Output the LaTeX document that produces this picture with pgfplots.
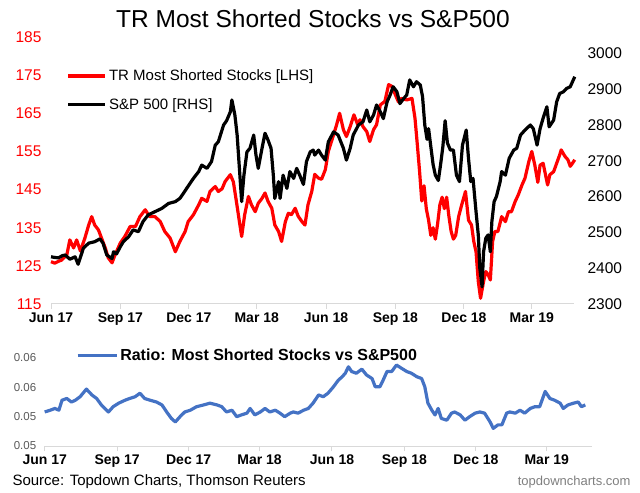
\documentclass[border=0pt]{standalone}
\usepackage{fontspec}
\setmainfont{Liberation Sans}
\usepackage{pgfplots}
\pgfplotsset{compat=1.18}
\definecolor{axgray}{HTML}{D9D9D9}
\definecolor{ratioblue}{HTML}{4472C4}
\definecolor{lblgray}{HTML}{595959}
\definecolor{urlgray}{HTML}{7F7F7F}
\begin{document}
\begin{tikzpicture}
\path[use as bounding box] (0bp,0bp) rectangle (640bp,493bp);
\node[font=\fontsize{24.5bp}{28bp}\selectfont] at (313bp,474bp) {TR Most Shorted Stocks vs S\&P500};
% ---------- top chart, left axis (red) ----------
\begin{axis}[
  at={(51bp,189bp)}, anchor=south west, scale only axis,
  width=523bp, height=267bp,
  xmin=0, xmax=694, ymin=115, ymax=185,
  axis x line*=bottom, axis y line*=left,
  y axis line style={draw=none},
  x axis line style={axgray, line width=1bp},
  xtick={0,92,183,273,365,457,548,638},
  xticklabels={Jun 17,Sep 17,Dec 17,Mar 18,Jun 18,Sep 18,Dec 18,Mar 19},
  xticklabel style={font=\fontsize{14bp}{16bp}\selectfont\bfseries},
  ytick={115,125,135,145,155,165,175,185},
  yticklabel style={font=\fontsize{15.5bp}{18bp}\selectfont, red, xshift=-1bp},
  ytick style={draw=none},
  xtick style={axgray, line width=1bp},
  tick align=outside, major tick length=5bp,
  /pgf/number format/assume math mode=true,
  clip=false,
]
\addplot[red, line width=3.2bp, line join=round] coordinates {
(0,126.1)(5,125.7)(10,126.2)(14,126.5)(21,127.9)(25,131.8)(30,129.7)(34,131.8)(39,128.9)(45,132.3)(50,135.7)(54,137.9)(58,135.7)(63,134.4)(67,132.3)(72,129.7)(76,127.1)(81,125.8)(85,127.9)(92,131)(98,132.7)(105,135.3)(112,135.3)(118,137.9)(125,139.7)(131,137.9)(138,137.9)(145,136.6)(151,134)(158,132.3)(165,128.7)(171,131.4)(178,134)(182,136.6)(189,138.4)(196,141)(200,142.7)(207,141.9)(211,144.5)(218,145.8)(222,144.5)(227,145.2)(231,147.1)(238,148.9)(242,147)(246,141.9)(250,136.6)(253,132.7)(257,138.4)(262,143.2)(266,141)(271,139.2)(275,141.4)(280,142.7)(284,144.1)(288,141.9)(293,140.1)(297,135.7)(302,134)(306,131.4)(311,136.6)(315,138.8)(319,138.4)(324,140.1)(328,138)(333,136.6)(337,135.7)(341,141)(346,144.5)(350,149)(355,148)(359,147.7)(364,150.2)(368,155)(375,159.4)(379,162)(383,165)(388,160.7)(392,158.9)(397,161.5)(402,164.6)(407,162)(410,163.3)(414,161.5)(419,160.2)(423,157.6)(428,160.7)(432,162)(437,167.2)(443,168.1)(448,172.5)(452,172.1)(456,170.3)(461,168)(465,168.9)(472,168.5)(479,168.9)(483,163.7)(486,157)(489,150)(492,142)(495,146)(498,140)(501,137)(504,133)(507,135)(510,132)(513,136)(516,141)(519,143)(522,140)(525,143)(528,138)(531,134)(534,132)(537,133)(541,138)(545,141)(550,144.5)(554,137)(558,135.7)(561,131.4)(564,128.7)(567,120.9)(570,116.5)(574,120.9)(577,123.5)(580,122.7)(583,121.3)(586,131.4)(589,134)(593,134)(598,137.9)(603,136.6)(607,139.2)(611,139.2)(616,141.9)(620,143.6)(625,146.2)(629,148)(634,152.3)(638,155)(642,151.4)(646,146.9)(649,151.4)(653,151.9)(659,146.2)(662,148.9)(667,149.7)(671,151.9)(675,154.1)(677,155.4)(682,153.7)(686,152.8)(689,151.1)(692,151.9)(695,152.8)
};
\end{axis}
% ---------- top chart, right axis (black) ----------
\begin{axis}[
  at={(51bp,189bp)}, anchor=south west, scale only axis,
  width=523bp, height=267bp,
  xmin=0, xmax=694, ymin=2300, ymax=3046,
  axis x line=none, axis y line*=right,
  y axis line style={draw=none},
  ytick={2300,2400,2500,2600,2700,2800,2900,3000},
  yticklabel style={font=\fontsize{15.5bp}{18bp}\selectfont, black, xshift=10bp},
  ytick style={draw=none},
  /pgf/number format/1000 sep={},
  /pgf/number format/assume math mode=true,
  clip=false,
  legend style={at={(0.03,0.885)}, anchor=north west, draw=none, fill=none,
    inner sep=0pt, font=\fontsize{15bp}{18bp}\selectfont, row sep=12bp,
    cells={anchor=west}},
  legend image code/.code={\draw[#1] (0bp,0bp) -- (37bp,0bp);},
]
\addlegendimage{red, line width=3.2bp}
\addlegendentry{TR Most Shorted Stocks [LHS]}
\addplot[black, line width=3.2bp, line join=round] coordinates {
(0,2432)(5,2430)(10,2429)(15,2435)(19,2437)(25,2425)(32,2432)(36,2411)(43,2456)(50,2470)(58,2474)(65,2482)(69,2470)(74,2437)(81,2427)(83,2446)(87,2440)(92,2460)(96,2474)(103,2488)(109,2507)(116,2502)(122,2530)(129,2549)(138,2558)(147,2567)(156,2581)(165,2586)(171,2595)(176,2610)(180,2623)(189,2651)(196,2670)(200,2688)(207,2679)(213,2698)(218,2744)(222,2753)(229,2800)(233,2812)(238,2837)(240,2870)(244,2828)(247,2772)(250,2679)(253,2586)(256,2660)(260,2725)(264,2735)(269,2772)(272,2716)(275,2679)(280,2735)(284,2777)(288,2758)(292,2735)(295,2660)(297,2595)(302,2642)(304,2595)(308,2660)(313,2623)(317,2670)(322,2651)(326,2679)(330,2660)(335,2634)(339,2698)(344,2725)(348,2730)(350,2716)(355,2730)(359,2716)(364,2702)(368,2753)(375,2781)(381,2772)(388,2735)(392,2702)(397,2735)(401,2772)(408,2800)(414,2809)(419,2842)(423,2809)(428,2828)(432,2856)(437,2837)(441,2818)(446,2865)(450,2884)(454,2907)(459,2893)(463,2860)(468,2874)(472,2884)(476,2926)(481,2907)(485,2921)(490,2912)(493,2880)(496,2800)(499,2760)(501,2790)(504,2740)(507,2690)(510,2660)(514,2645)(517,2690)(520,2740)(523,2812)(526,2750)(530,2730)(534,2730)(538,2660)(542,2642)(546,2744)(551,2786)(554,2707)(557,2642)(560,2651)(564,2558)(567,2493)(569,2400)(572,2348)(574,2446)(577,2484)(580,2493)(583,2446)(585,2530)(588,2586)(591,2600)(596,2642)(598,2670)(603,2660)(608,2707)(614,2730)(618,2735)(623,2772)(629,2786)(636,2800)(640,2790)(645,2744)(649,2790)(653,2819)(658,2851)(661,2795)(667,2814)(671,2865)(675,2888)(680,2893)(684,2902)(689,2907)(692,2921)(695,2935)
};
\addlegendentry{S\&P 500 [RHS]}
\end{axis}
% ---------- bottom chart (ratio) ----------
\begin{axis}[
  at={(44.7bp,47bp)}, anchor=south west, scale only axis,
  width=547.3bp, height=88bp,
  xmin=0, xmax=695.5, ymin=0.045, ymax=0.06,
  axis x line*=bottom, axis y line*=left,
  y axis line style={draw=none},
  x axis line style={axgray, line width=1bp},
  xtick={0,92,183,273,365,457,548,638},
  xticklabels={Jun 17,Sep 17,Dec 17,Mar 18,Jun 18,Sep 18,Dec 18,Mar 19},
  xticklabel style={font=\fontsize{14bp}{16bp}\selectfont\bfseries},
  scaled y ticks=false,
  ytick={0.045,0.05,0.055,0.06},
  yticklabels={0.05,0.05,0.06,0.06},
  yticklabel style={font=\fontsize{11.5bp}{13bp}\selectfont, lblgray},
  ytick style={draw=none},
  xtick style={axgray, line width=1bp},
  tick align=outside, major tick length=5bp,
  clip=false,
  legend style={at={(0.057,1.126)}, anchor=north west, draw=none, fill=none,
    inner sep=0pt, font=\fontsize{16bp}{18bp}\selectfont\bfseries,
    cells={anchor=west}},
  legend image code/.code={\draw[#1] (0bp,0bp) -- (39bp,0bp);},
]
\addplot[ratioblue, line width=3.2bp, line join=round] coordinates {
(0,0.0508)(7,0.0511)(13,0.0514)(18,0.0511)(22,0.0528)(28,0.0531)(34,0.0525)(39,0.0528)(45,0.0534)(53,0.0547)(60,0.0537)(66,0.0531)(72,0.0520)(81,0.0508)(87,0.0517)(94,0.0523)(102,0.0528)(108,0.0531)(115,0.0534)(121,0.0540)(127,0.0531)(134,0.0528)(142,0.0525)(149,0.0520)(155,0.0508)(161,0.0497)(166,0.0491)(172,0.0500)(178,0.0508)(185,0.0511)(193,0.0517)(202,0.0520)(210,0.0523)(219,0.0520)(225,0.0517)(231,0.0508)(238,0.0511)(244,0.0500)(250,0.0503)(257,0.0506)(261,0.0514)(267,0.0503)(274,0.0508)(280,0.0514)(286,0.0508)(293,0.0511)(299,0.0506)(305,0.0500)(312,0.0506)(316,0.0508)(322,0.0506)(329,0.0511)(335,0.0514)(341,0.0523)(348,0.0537)(354,0.0534)(360,0.0540)(367,0.0551)(373,0.0562)(378,0.0568)(382,0.0574)(386,0.0585)(390,0.0577)(396,0.0574)(403,0.0581)(409,0.0571)(416,0.0565)(420,0.0551)(426,0.0551)(430,0.0562)(435,0.0577)(441,0.0577)(447,0.0588)(454,0.0582)(460,0.0577)(466,0.0574)(473,0.0568)(479,0.0565)(483,0.0551)(487,0.0523)(492,0.0511)(496,0.0503)(500,0.0514)(504,0.0497)(511,0.0494)(517,0.0506)(521,0.0508)(528,0.0503)(534,0.0494)(540,0.0500)(547,0.0506)(553,0.0508)(559,0.0506)(566,0.0491)(570,0.0480)(576,0.0486)(581,0.0486)(587,0.0506)(591,0.0508)(598,0.0506)(604,0.0511)(610,0.0506)(617,0.0514)(623,0.0517)(629,0.0517)(636,0.0543)(642,0.0531)(648,0.0528)(655,0.0523)(659,0.0514)(665,0.0520)(672,0.0523)(678,0.0525)(682,0.0517)(687,0.0520)
};
\addlegendentry{Ratio: Most Shorted Stocks vs S\&P500}
\end{axis}
\node[anchor=west, font=\fontsize{15bp}{18bp}\selectfont] at (9bp,11bp) {Source: Topdown Charts, Thomson Reuters};
\node[anchor=east, font=\fontsize{13bp}{15bp}\selectfont, text=urlgray] at (634bp,11bp) {topdowncharts.com};
\end{tikzpicture}
\end{document}
